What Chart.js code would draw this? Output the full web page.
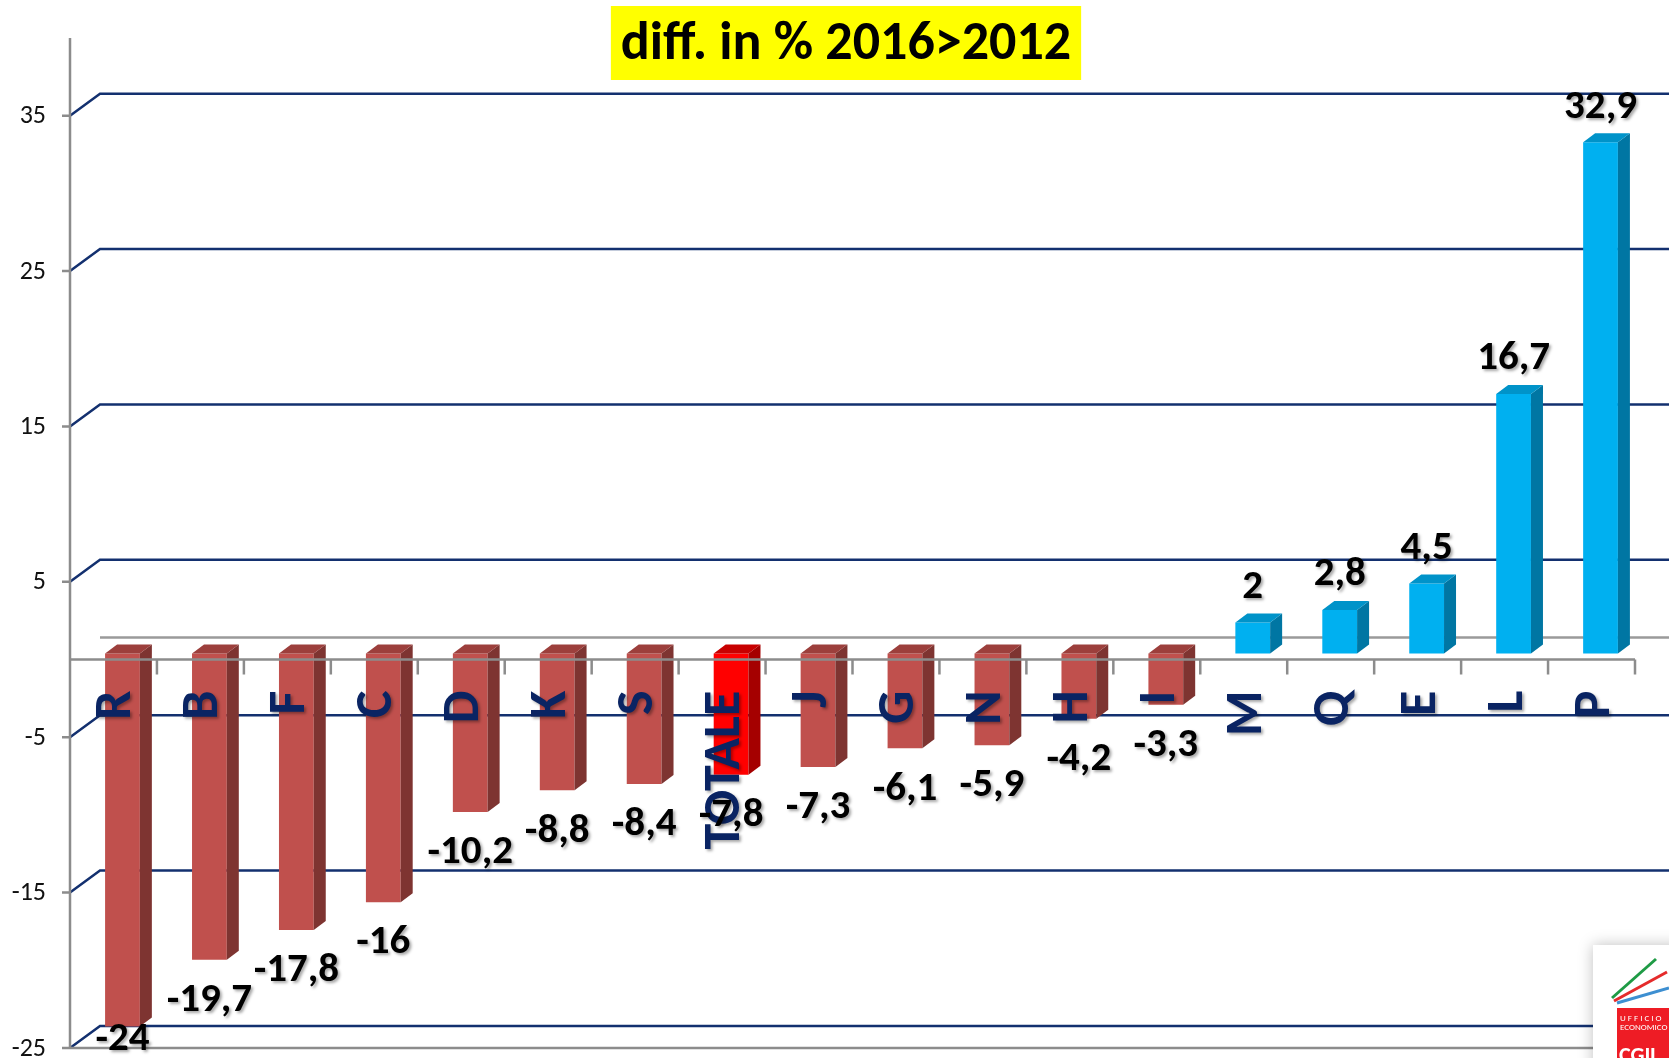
<!DOCTYPE html>
<html lang="it">
<head>
    <meta charset="UTF-8">
    <title>diff. in % 2016>2012</title>
    <script src="https://cdn.jsdelivr.net/npm/chart.js@4.4.1/dist/chart.umd.min.js"></script>
    <style>
        body { margin: 0; background: #fff; }
        canvas { display: block; }
    </style>
</head>
<body>
    <canvas id="chart" width="1669" height="1058"></canvas>
    <script>
        // Data
        const categories = ['R', 'B', 'F', 'C', 'D', 'K', 'S', 'TOTALE', 'J', 'G', 'N', 'H', 'I', 'M', 'Q', 'E', 'L', 'P'];
        const values = [-24, -19.7, -17.8, -16, -10.2, -8.8, -8.4, -7.8, -7.3, -6.1, -5.9, -4.2, -3.3, 2, 2.8, 4.5, 16.7, 32.9];
        const yTicks = [-25, -15, -5, 5, 15, 25, 35];
        const yMin = -25;
        const yMax = 40;
        const titleText = 'diff. in % 2016>2012';

        // colours: front / side / top faces
        const redFaces = ['#C0504D', '#7E3431', '#9C3F3C'];
        const totalFaces = ['#FF0000', '#A50000', '#C80000'];
        const blueFaces = ['#00B0F0', '#0076A3', '#0093C9'];

        function facesFor(i) {
            if (categories[i] === 'TOTALE') return totalFaces;
            return values[i] < 0 ? redFaces : blueFaces;
        }

        // 3D look
        const SHIFT_X = 9, SHIFT_Y = -6;     // bars sit half way into the depth
        const DEPTH_X = 12, DEPTH_Y = -9;    // bar depth
        const BACK_X = 30, BACK_Y = -22;     // back wall offset
        const FONT = 'Carlito, Lato, "Open Sans", sans-serif';

        function fmt(v) {
            return String(v).replace('.', ',');
        }

        const threeD = {
            id: 'threeD',
            beforeDatasetsDraw(chart) {
                const ctx = chart.ctx;
                const area = chart.chartArea;
                const y = chart.scales.y;
                const W = chart.width;

                ctx.save();
                // back wall gridlines
                ctx.strokeStyle = '#13306F';
                ctx.lineWidth = 2.5;
                yTicks.forEach(v => {
                    const py = y.getPixelForValue(v);
                    ctx.beginPath();
                    ctx.moveTo(area.left, py);
                    ctx.lineTo(area.left + BACK_X, py + BACK_Y);
                    ctx.lineTo(W, py + BACK_Y);
                    ctx.stroke();
                });
                // back zero line
                const y0 = y.getPixelForValue(0);
                ctx.strokeStyle = '#9A9A9A';
                ctx.lineWidth = 2.5;
                ctx.beginPath();
                ctx.moveTo(area.left + BACK_X, y0 + BACK_Y);
                ctx.lineTo(W, y0 + BACK_Y);
                ctx.stroke();
                ctx.restore();

                ctx.save();
                ctx.translate(SHIFT_X, SHIFT_Y);
            },
            afterDatasetsDraw(chart) {
                const ctx = chart.ctx;
                const meta = chart.getDatasetMeta(0);

                // side and top faces, still in the shifted frame
                meta.data.forEach((bar, i) => {
                    const p = bar.getProps(['x', 'y', 'base', 'width'], true);
                    const left = p.x - p.width / 2;
                    const right = p.x + p.width / 2;
                    const top = Math.min(p.y, p.base);
                    const bottom = Math.max(p.y, p.base);
                    const faces = facesFor(i);

                    ctx.fillStyle = faces[1];
                    ctx.beginPath();
                    ctx.moveTo(right, top);
                    ctx.lineTo(right + DEPTH_X, top + DEPTH_Y);
                    ctx.lineTo(right + DEPTH_X, bottom + DEPTH_Y);
                    ctx.lineTo(right, bottom);
                    ctx.closePath();
                    ctx.fill();

                    ctx.fillStyle = faces[2];
                    ctx.beginPath();
                    ctx.moveTo(left, top);
                    ctx.lineTo(left + DEPTH_X, top + DEPTH_Y);
                    ctx.lineTo(right + DEPTH_X, top + DEPTH_Y);
                    ctx.lineTo(right, top);
                    ctx.closePath();
                    ctx.fill();
                });
                ctx.restore();

                const area = chart.chartArea;
                const x = chart.scales.x;
                const y = chart.scales.y;
                const y0 = y.getPixelForValue(0);
                const step = (area.right - area.left) / categories.length;

                ctx.save();
                ctx.strokeStyle = '#8C8C8C';
                ctx.lineWidth = 2.5;
                // front zero axis with tick marks
                ctx.beginPath();
                ctx.moveTo(area.left, y0);
                ctx.lineTo(area.right, y0);
                for (let k = 1; k <= categories.length; k++) {
                    const tx = area.left + step * k;
                    ctx.moveTo(tx, y0);
                    ctx.lineTo(tx, y0 + 15);
                }
                ctx.stroke();
                // value axis
                ctx.beginPath();
                ctx.moveTo(area.left, area.top);
                ctx.lineTo(area.left, area.bottom);
                yTicks.forEach(v => {
                    const py = y.getPixelForValue(v);
                    ctx.moveTo(area.left - 8, py);
                    ctx.lineTo(area.left, py);
                });
                ctx.stroke();
                // bottom edge
                ctx.beginPath();
                ctx.moveTo(area.left, area.bottom);
                ctx.lineTo(chart.width, area.bottom);
                ctx.stroke();

                // value axis labels
                ctx.fillStyle = '#111';
                ctx.font = '26px ' + FONT;
                ctx.textAlign = 'right';
                ctx.textBaseline = 'middle';
                yTicks.forEach(v => {
                    ctx.fillText(String(v), area.left - 24, y.getPixelForValue(v) + 1);
                });

                // category labels, rotated, inside the plot
                ctx.shadowColor = 'rgba(0,0,0,0.35)';
                ctx.shadowBlur = 3;
                ctx.shadowOffsetX = 2;
                ctx.shadowOffsetY = 2;
                ctx.fillStyle = '#0A2463';
                ctx.font = 'bold 52px ' + FONT;
                categories.forEach((c, i) => {
                    ctx.save();
                    ctx.translate(x.getPixelForValue(i) + 4, y0 + 31);
                    ctx.rotate(-Math.PI / 2);
                    ctx.textAlign = 'right';
                    ctx.textBaseline = 'middle';
                    ctx.fillText(c, 0, 0);
                    ctx.restore();
                });

                // data labels
                ctx.fillStyle = '#000';
                ctx.font = 'bold 41px ' + FONT;
                ctx.textAlign = 'center';
                ctx.textBaseline = 'middle';
                meta.data.forEach((bar, i) => {
                    const v = values[i];
                    const px = bar.x + SHIFT_X;
                    let py = bar.y + SHIFT_Y + (v < 0 ? 41 : -35);
                    py = Math.min(py, chart.height - 18);
                    ctx.fillText(fmt(v), px, py);
                });
                ctx.restore();
            },
            afterDraw(chart) {
                const ctx = chart.ctx;
                ctx.save();
                // title box
                ctx.font = 'bold 54px ' + FONT;
                const tw = ctx.measureText(titleText).width;
                const cx = 846;
                ctx.fillStyle = '#FFFF00';
                ctx.fillRect(cx - tw / 2 - 10, 6, tw + 20, 74);
                ctx.fillStyle = '#000';
                ctx.textAlign = 'center';
                ctx.textBaseline = 'middle';
                ctx.fillText(titleText, cx, 45);

                // logo in the corner
                const W = chart.width, H = chart.height;
                ctx.shadowColor = 'rgba(0,0,0,0.25)';
                ctx.shadowBlur = 14;
                ctx.fillStyle = '#fff';
                ctx.fillRect(W - 76, H - 113, 90, 130);
                ctx.shadowColor = 'transparent';
                ctx.lineWidth = 3;
                ctx.strokeStyle = '#1E9B45';
                ctx.beginPath(); ctx.moveTo(W - 57, H - 60); ctx.lineTo(W - 13, H - 99); ctx.stroke();
                ctx.strokeStyle = '#E52B2B';
                ctx.beginPath(); ctx.moveTo(W - 55, H - 57); ctx.lineTo(W - 2, H - 86); ctx.stroke();
                ctx.strokeStyle = '#3D8FD1';
                ctx.beginPath(); ctx.moveTo(W - 52, H - 55); ctx.lineTo(W, H - 70); ctx.stroke();
                ctx.fillStyle = '#EE1C25';
                ctx.fillRect(W - 52, H - 50, 52, 50);
                ctx.fillStyle = '#fff';
                ctx.textAlign = 'left';
                ctx.textBaseline = 'alphabetic';
                ctx.font = '9px ' + FONT;
                ctx.fillText('U F F I C I O', W - 49, H - 37);
                ctx.fillText('ECONOMICO', W - 49, H - 28);
                ctx.font = 'bold 22px ' + FONT;
                ctx.fillText('CGIL', W - 50, H + 4);
                ctx.restore();
            }
        };

        new Chart(document.getElementById('chart'), {
            type: 'bar',
            data: {
                labels: categories,
                datasets: [{
                    data: values,
                    backgroundColor: values.map((v, i) => facesFor(i)[0]),
                    borderWidth: 0,
                    categoryPercentage: 1,
                    barPercentage: 0.4
                }]
            },
            options: {
                responsive: false,
                animation: false,
                devicePixelRatio: 1,
                layout: {
                    padding: { left: 70, right: 34, top: 38, bottom: 10 }
                },
                plugins: {
                    legend: { display: false },
                    tooltip: { enabled: false },
                    title: { display: false }
                },
                scales: {
                    x: { display: false },
                    y: { display: false, min: yMin, max: yMax }
                }
            },
            plugins: [threeD]
        });
    </script>
</body>
</html>
